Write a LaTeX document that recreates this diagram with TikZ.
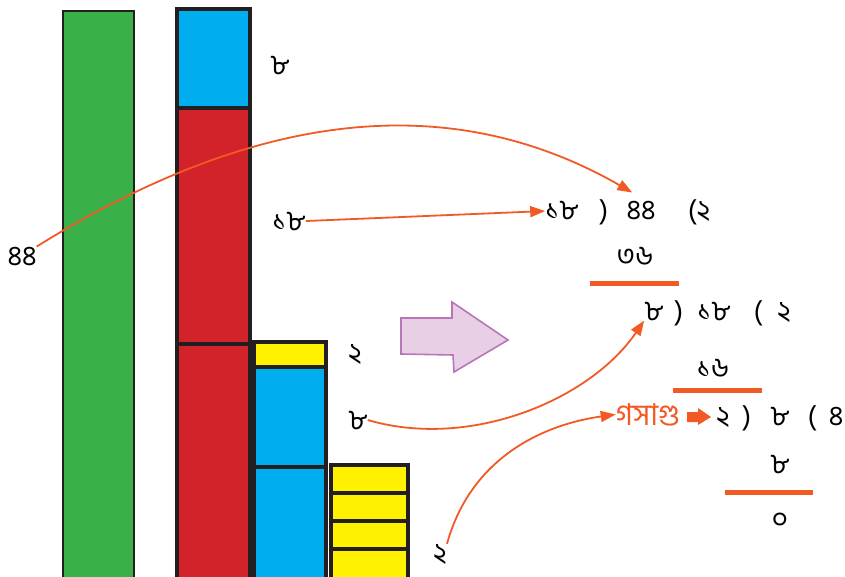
\documentclass[tikz,border=0pt]{standalone}
\usepackage{fontspec}
\newfontfamily\bn[Script=Bengali]{Hind Siliguri}
\usetikzlibrary{arrows.meta}
\definecolor{cgreen}{HTML}{3AB04A}
\definecolor{cblue}{HTML}{00AEEF}
\definecolor{cred}{HTML}{D2232A}
\definecolor{cyellow}{HTML}{FFF200}
\definecolor{cborder}{HTML}{231F20}
\definecolor{corange}{HTML}{F15A24}
\definecolor{cpfill}{HTML}{E8CFE6}
\definecolor{cpdraw}{HTML}{B776B8}
\tikzset{
  bar/.style={draw=cborder,line width=4pt},
  num/.style={inner sep=0pt,anchor=base,font=\bn\fontsize{28}{30}\selectfont,text=black},
  conn/.style={draw=corange,line width=1.8pt,-{Triangle[length=15pt,width=11pt]}},
  rule/.style={draw=corange,line width=5pt},
}
\begin{document}
\begin{tikzpicture}[x=1pt,y=-1pt]
\useasboundingbox (0,0) rectangle (845,577);
% green bar
\path[fill=cgreen,draw=cborder,line width=1.6pt] (63,11) rectangle (134,580);
% second column
\path[bar,fill=cblue] (177,9) rectangle (250,108);
\path[bar,fill=cred] (177,108) rectangle (250,344);
\path[bar,fill=cred] (177,344) rectangle (250,580);
% third column
\path[bar,fill=cyellow] (254,342) rectangle (326,367);
\path[bar,fill=cblue] (254,367) rectangle (326,467);
\path[bar,fill=cblue] (254,467) rectangle (326,580);
% fourth column
\path[bar,fill=cyellow] (331,465) rectangle (408,493);
\path[bar,fill=cyellow] (331,493) rectangle (408,521);
\path[bar,fill=cyellow] (331,521) rectangle (408,549);
\path[bar,fill=cyellow] (331,549) rectangle (408,580);
% block arrow
\path[fill=cpfill,draw=cpdraw,line width=1.6pt] (401,318) -- (452,318) -- (452,302) -- (508,340) -- (454,372) -- (453,355) -- (401,354) -- cycle;
% labels at bars
\node[num] (l8a) at (280,75) {৮};
\node[num] (l18) at (289,230) {১৮};
\node[num] (l44) at (22,265) {৪৪};
\node[num] (l2a) at (355,362) {২};
\node[num] (l8b) at (358,429) {৮};
\node[num] (l2b) at (440,562) {২};
% division line 1
\node[num] (d18) at (562,220) {১৮};
\node[num] (p1) at (604,220) {)};
\node[num] (d44) at (641,220) {৪৪};
\node[num] (q1) at (699,220) {(২};
\node[num] (s36) at (635,265) {৩৬};
\coordinate (r1a) at (590,283); \coordinate (r1b) at (679,283);
\draw[rule] (r1a) -- (r1b);
% division line 2
\node[num] (d8) at (654,320) {৮};
\node[num] (p2) at (679,320) {)};
\node[num] (d18b) at (714,320) {১৮};
\node[num] (o2) at (758,320) {(};
\node[num] (q2) at (784,320) {২};
\node[num] (s16) at (713,377) {১৬};
\coordinate (r2a) at (673,390); \coordinate (r2b) at (762,390);
\draw[rule] (r2a) -- (r2b);
% division line 3
\node[num,text=corange,font=\bn\fontsize{30}{32}\selectfont] (gcd) at (648,425) {গসাগু};
\path[fill=corange] (687,412) -- (698,412) -- (698,408) -- (711,417) -- (698,425) -- (698,422) -- (687,422) -- cycle;
\node[num] (d2) at (723,425) {২};
\node[num] (p3) at (747,425) {)};
\node[num] (d8c) at (780,425) {৮};
\node[num] (o3) at (812,425) {(};
\node[num] (q3) at (836,425) {৪};
\node[num] (s8) at (780,473) {৮};
\coordinate (r3a) at (725,492); \coordinate (r3b) at (813,492);
\draw[rule] (r3a) -- (r3b);
\node[num] (z0) at (780,528) {০};
% connectors
\draw[conn] (l44.north east) .. controls (290,89) and (478,104) .. ([xshift=6pt,yshift=9pt]d44.north west);
\draw[conn] (l18.east) -- (d18.west);
\draw[conn] (l8b.east) .. controls (470,450) and (590,400) .. (d8.south west);
\draw[conn] (l2b.north east) .. controls (470,460) and (540,425) .. (gcd.west);
\end{tikzpicture}
\end{document}
